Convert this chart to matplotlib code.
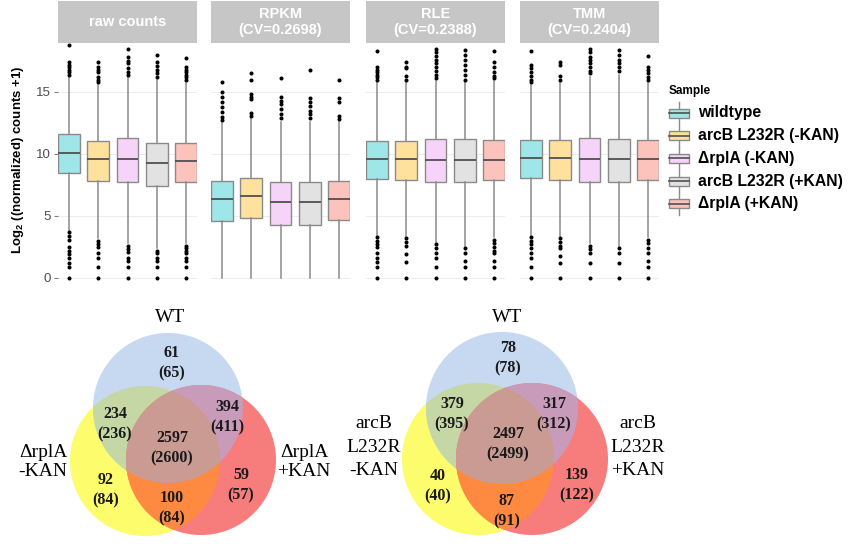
import numpy as np
import matplotlib
matplotlib.use('Agg')
import matplotlib.pyplot as plt
from matplotlib.patches import Rectangle, Polygon

W, H = 857, 544

# ---------------- data ----------------
samples = ['wildtype', 'arcB L232R (-KAN)', 'ΔrplA (-KAN)', 'arcB L232R (+KAN)', 'ΔrplA (+KAN)']
sample_colors = ['#9FE6E8', '#FDE19D', '#F6D3F8', '#E2E2E2', '#FBC3BC']
panels = ['raw counts', 'RPKM\n(CV=0.2698)', 'RLE\n(CV=0.2388)', 'TMM\n(CV=0.2404)']
y_ticks = [0, 5, 10, 15]

# per sample: [whisker_low, q1, median, q3, whisker_high]
raw_stats = [[3.9, 8.5, 10.1, 11.6, 16.2],
             [3.2, 7.8, 9.6, 11.05, 15.6],
             [2.8, 7.75, 9.6, 11.25, 16.2],
             [2.4, 7.4, 9.25, 10.85, 16.0],
             [2.8, 7.7, 9.4, 10.9, 15.7]]
rpkm_stats = [[0.0, 4.6, 6.35, 7.8, 12.5],
              [0.0, 4.8, 6.65, 8.05, 12.9],
              [0.0, 4.3, 6.15, 7.7, 12.6],
              [0.0, 4.3, 6.15, 7.7, 12.6],
              [0.0, 4.7, 6.4, 7.85, 12.6]]
rle_stats = [[3.5, 8.0, 9.6, 11.05, 15.8],
             [3.4, 7.9, 9.6, 11.05, 15.8],
             [2.9, 7.75, 9.55, 11.2, 15.9],
             [2.6, 7.75, 9.55, 11.2, 15.8],
             [3.3, 7.9, 9.55, 11.15, 15.9]]
tmm_stats = [[3.5, 8.05, 9.7, 11.1, 15.6],
             [3.4, 7.9, 9.7, 11.1, 15.8],
             [2.8, 7.75, 9.6, 11.25, 16.2],
             [2.6, 7.75, 9.6, 11.2, 16.4],
             [3.3, 7.9, 9.6, 11.15, 15.8]]

raw_outliers = [[18.8, 17.4, 17.2, 17.0, 16.8, 16.6, 16.4, 3.7, 3.4, 3.1, 2.5, 2.2, 1.9, 1.6, 1.2, 0.9, 0.0],
                [17.4, 17.0, 16.8, 16.6, 16.2, 16.0, 15.8, 3.0, 2.7, 2.5, 2.0, 1.6, 0.9, 0.0],
                [18.5, 17.8, 17.5, 17.3, 16.9, 16.6, 16.4, 2.6, 2.3, 2.1, 1.6, 1.4, 0.9, 0.0],
                [18.0, 17.4, 17.1, 16.8, 16.5, 16.2, 2.2, 2.0, 1.6, 1.4, 0.9, 0.0],
                [17.7, 17.0, 16.8, 16.6, 16.4, 16.2, 16.0, 2.6, 2.4, 2.2, 2.0, 1.6, 1.4, 0.9, 0.0]]
rpkm_outliers = [[15.8, 15.0, 14.6, 14.2, 13.8, 13.4, 13.0, 12.7],
                 [16.5, 16.0, 14.8, 14.6, 14.4, 13.3, 13.1],
                 [16.1, 14.6, 14.3, 14.0, 13.6, 13.2, 12.9],
                 [16.8, 14.5, 14.2, 13.9, 13.5, 13.2, 12.9],
                 [16.0, 14.5, 14.2, 13.1, 12.8]]
rle_outliers = [[18.3, 17.0, 16.8, 16.6, 16.4, 16.2, 16.0, 3.3, 3.0, 2.7, 2.5, 2.0, 1.6, 1.3, 0.9, 0.0],
                [17.4, 17.0, 16.9, 16.3, 16.0, 3.2, 2.9, 2.6, 1.9, 1.3, 0.0],
                [18.5, 18.2, 17.9, 17.6, 17.3, 17.0, 16.7, 16.4, 16.1, 2.7, 2.4, 2.0, 1.6, 0.9, 0.0],
                [18.4, 18.0, 17.6, 17.2, 16.8, 16.4, 16.0, 2.4, 2.0, 1.4, 0.9, 0.0],
                [18.3, 17.4, 17.0, 16.6, 16.3, 16.1, 3.1, 2.8, 2.5, 2.2, 2.0, 1.4, 0.9, 0.0]]
tmm_outliers = [[18.3, 17.2, 16.9, 16.6, 16.3, 16.0, 15.8, 3.3, 3.0, 2.7, 2.4, 2.0, 1.6, 0.9, 0.0],
                [17.4, 17.2, 16.3, 16.0, 3.2, 2.9, 2.6, 2.4, 1.8, 1.2, 0.0],
                [18.5, 18.2, 17.8, 17.6, 17.3, 17.0, 16.7, 16.5, 2.6, 2.3, 2.0, 1.2, 0.0],
                [18.4, 18.0, 17.6, 17.3, 17.0, 16.7, 2.4, 2.0, 1.2, 0.0],
                [17.9, 17.0, 16.8, 16.5, 16.2, 16.0, 3.1, 2.8, 2.4, 2.0, 1.4, 0.9, 0.0]]

all_stats = [raw_stats, rpkm_stats, rle_stats, tmm_stats]
all_outliers = [raw_outliers, rpkm_outliers, rle_outliers, tmm_outliers]

# Venn diagrams: counts (first line) and counts in parentheses (second line)
# region order: WT only, WT&left, all three, WT&right, left only, left&right, right only
venn1_labels = ['WT', 'ΔrplA\n-KAN', 'ΔrplA\n+KAN']
venn1_main = [61, 234, 2597, 394, 92, 100, 59]
venn1_paren = [65, 236, 2600, 411, 84, 84, 57]
venn2_labels = ['WT', 'arcB\nL232R\n-KAN', 'arcB\nL232R\n+KAN']
venn2_main = [78, 379, 2497, 317, 40, 87, 139]
venn2_paren = [78, 395, 2499, 312, 40, 91, 122]

# ---------------- figure ----------------
fig = plt.figure(figsize=(W / 100, H / 100), dpi=100)


def px_rect(left, top, width, height):
    return [left / W, 1 - (top + height) / H, width / W, height / H]


sans = ['Liberation Sans', 'DejaVu Sans']
panel_lefts = [58, 211, 366, 520]
panel_w = 139
ax_top, ax_h = 43, 246

for p, (name, stats, outl) in enumerate(zip(panels, all_stats, all_outliers)):
    ax = fig.add_axes(px_rect(panel_lefts[p], ax_top, panel_w, ax_h))
    bstats = []
    for s, o in zip(stats, outl):
        bstats.append(dict(whislo=s[0], q1=s[1], med=s[2], q3=s[3], whishi=s[4], fliers=o))
    bp = ax.bxp(bstats, positions=range(1, 6), widths=0.75, patch_artist=True,
                showcaps=False,
                boxprops=dict(edgecolor='#8A8A8A', linewidth=1.0),
                medianprops=dict(color='#505050', linewidth=1.3),
                whiskerprops=dict(color='#8A8A8A', linewidth=1.1),
                flierprops=dict(marker='o', markersize=1.9, markerfacecolor='black',
                                markeredgecolor='black', linestyle='none'))
    for patch, c in zip(bp['boxes'], sample_colors):
        patch.set_facecolor(c)
    ax.set_xlim(0.62, 5.38)
    ax.set_ylim(-0.89, 18.95)
    ax.set_yticks(y_ticks)
    ax.set_xticks([])
    ax.grid(axis='y', color='#EDEDED', linewidth=0.7)
    ax.set_axisbelow(True)
    for sp in ax.spines.values():
        sp.set_visible(False)
    if p == 0:
        ax.tick_params(axis='y', length=3, color='#7F7F7F', labelsize=9.5,
                       labelcolor='#4D4D4D', pad=2)
        for lab in ax.get_yticklabels():
            lab.set_family(sans)
    else:
        ax.tick_params(axis='y', length=0, labelleft=False)
    # strip
    sx = fig.add_axes(px_rect(panel_lefts[p], 1, panel_w, 42))
    sx.set_facecolor('#C6C6C6')
    sx.set_xticks([]); sx.set_yticks([])
    for sp in sx.spines.values():
        sp.set_visible(False)
    sx.text(0.5, 0.5, name, ha='center', va='center', color='white',
            fontsize=10.5, fontweight='bold', family=sans, linespacing=1.2,
            transform=sx.transAxes)

fig.text(18 / W, 1 - 160 / H, r'Log$_{\mathregular{2}}$ ((normalized) counts +1)',
         rotation=90, ha='center', va='center', fontsize=9.5, fontweight='bold',
         family=sans)

# ---------------- overlay (legend + venn) in pixel coordinates ----------------
ov = fig.add_axes([0, 0, 1, 1])
ov.set_xlim(0, W)
ov.set_ylim(H, 0)
ov.axis('off')
ov.patch.set_visible(False)

ov.text(669, 91, 'Sample', ha='left', va='center', fontsize=8.5, fontweight='bold',
        family=sans)
for i, (lab, c) in enumerate(zip(samples, sample_colors)):
    cy = 113 + 22.7 * i
    ov.plot([679, 679], [cy - 11, cy + 11], color='#8A8A8A', lw=1.0, zorder=1)
    ov.add_patch(Rectangle((669, cy - 4.5), 20, 9, facecolor=c, edgecolor='#8A8A8A',
                           lw=1.0, zorder=2))
    ov.plot([669, 689], [cy, cy], color='#505050', lw=1.2, zorder=3)
    ov.text(698, cy, lab, ha='left', va='center', fontsize=11.3, fontweight='bold',
            family=sans)


def circle_poly(cx, cy, r, n=360):
    t = np.linspace(0, 2 * np.pi, n, endpoint=False)
    return np.column_stack([cx + r * np.cos(t), cy + r * np.sin(t)])


def _inside(p, a, b):
    return (b[0] - a[0]) * (p[1] - a[1]) - (b[1] - a[1]) * (p[0] - a[0]) >= 0


def _intersect(p1, p2, a, b):
    x1, y1 = p1; x2, y2 = p2; x3, y3 = a; x4, y4 = b
    den = (x1 - x2) * (y3 - y4) - (y1 - y2) * (x3 - x4)
    t = ((x1 - x3) * (y3 - y4) - (y1 - y3) * (x3 - x4)) / den
    return (x1 + t * (x2 - x1), y1 + t * (y2 - y1))


def clip(subject, clipper):
    out = [tuple(p) for p in subject]
    n = len(clipper)
    for i in range(n):
        a = clipper[i]; b = clipper[(i + 1) % n]
        inp = out; out = []
        if not inp:
            break
        s = inp[-1]
        for e in inp:
            if _inside(e, a, b):
                if not _inside(s, a, b):
                    out.append(_intersect(s, e, a, b))
                out.append(e)
            elif _inside(s, a, b):
                out.append(_intersect(s, e, a, b))
            s = e
    return np.array(out)


col = dict(B='#C6D9F1', Y='#FCFC6C', R='#F77D7D', BY='#C5D7A4', BR='#C89BBA',
           YR='#FE8A42', BYR='#C99B93')

serif = ['Liberation Serif', 'DejaVu Serif']


def draw_venn(bc, yc, rc, r, main, paren, text_pos, labels, label_pos, spacing):
    B = circle_poly(*bc, r); Y = circle_poly(*yc, r); R = circle_poly(*rc, r)
    for poly, c in [(Y, col['Y']), (B, col['B']), (R, col['R']),
                    (clip(B, Y), col['BY']), (clip(B, R), col['BR']),
                    (clip(Y, R), col['YR']), (clip(clip(B, Y), R), col['BYR'])]:
        ov.add_patch(Polygon(poly, closed=True, facecolor=c, edgecolor='none', zorder=1))
    for m, pa, (x, y) in zip(main, paren, text_pos):
        ov.text(x, y - 10, str(m), ha='center', va='center', fontsize=11.5,
                fontweight='bold', family=serif, color='#1A1A1A', zorder=5)
        ov.text(x, y + 10, '(%d)' % pa, ha='center', va='center', fontsize=11.5,
                fontweight='bold', family=serif, color='#1A1A1A', zorder=5)
    for lab, (x, y) in zip(labels, label_pos):
        lines = lab.split('\n')
        y0 = y - spacing * (len(lines) - 1) / 2
        for k, ln in enumerate(lines):
            ov.text(x, y0 + k * spacing, ln, ha='center', va='center', fontsize=14,
                    family=serif, color='black', zorder=5)


draw_venn((168, 408), (145, 461), (201, 460), 75, venn1_main, venn1_paren,
          [(172, 363), (115, 424), (172, 448), (227, 417), (106, 490), (172, 508), (241, 485)],
          venn1_labels, [(170, 318), (43, 462), (304, 462)], 19)
draw_venn((502, 408), (478, 459), (532, 459), 76, venn2_main, venn2_paren,
          [(508, 358), (452, 414), (508, 444), (554, 414), (438, 486), (507, 511), (577, 485)],
          venn2_labels, [(507, 318), (374, 447), (638, 447)], 23.5)

fig.savefig('out.png', dpi=100)
